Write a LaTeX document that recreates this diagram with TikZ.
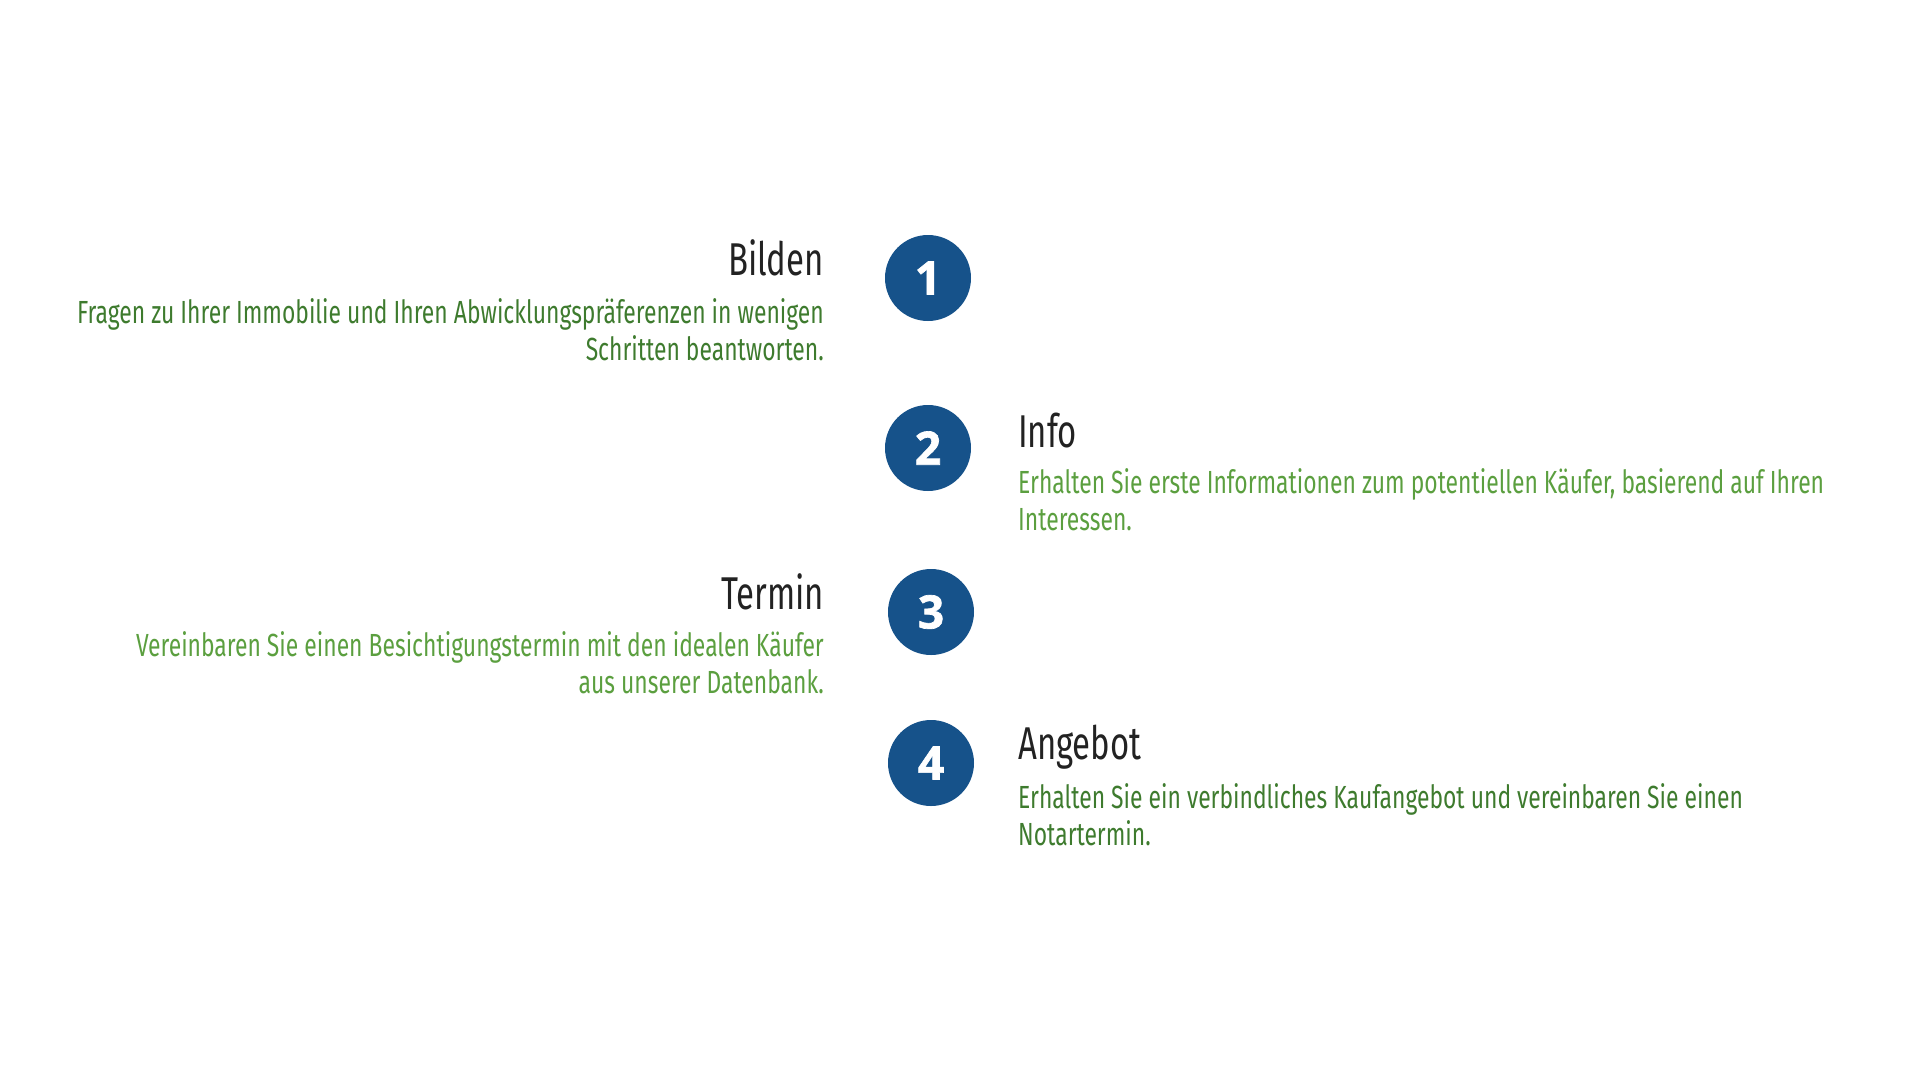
\documentclass[tikz,border=0pt]{standalone}
\usepackage{fontspec}
\setmainfont{Fira Sans}[FakeStretch=0.715]
\newfontfamily\numfont{Open Sans}[BoldFeatures={FakeBold=1.5}]
\definecolor{circleblue}{HTML}{16528A}
\definecolor{darkgreen}{HTML}{3E7B2E}
\definecolor{lightgreen}{HTML}{5B9F3F}
\definecolor{titlegray}{HTML}{222222}
\tikzset{
   stepcircle/.style={circle, fill=circleblue, minimum size=86pt, inner sep=0pt,
      text=white, font=\numfont\bfseries\fontsize{46}{46}\selectfont},
   steptitle/.style={inner sep=0pt, text=titlegray, font=\fontsize{46}{50}\selectfont},
   stepdesc/.style={inner sep=0pt, font=\fontsize{32}{37}\selectfont},
}
\begin{document}
\begin{tikzpicture}[x=1pt, y=-1pt]
   \useasboundingbox (0, 0) rectangle (1920, 1080);
   % numbered circles
   \node[stepcircle] (n1) at (928, 278) {1};
   \node[stepcircle] (n2) at (928, 448) {2};
   \node[stepcircle] (n3) at (931, 612) {3};
   \node[stepcircle] (n4) at (931, 763) {4};
   % left column
   \node[steptitle, anchor=base east] (t1) at (824, 275) {Bilden};
   \node[stepdesc, anchor=base east, align=right, text=darkgreen] (d1) at (824, 360)
      {Fragen zu Ihrer Immobilie und Ihren Abwicklungspräferenzen in wenigen\\Schritten beantworten.};
   \node[steptitle, anchor=base east] (t3) at (824, 609) {Termin};
   \node[stepdesc, anchor=base east, align=right, text=lightgreen] (d3) at (824, 693)
      {Vereinbaren Sie einen Besichtigungstermin mit den idealen Käufer\\aus unserer Datenbank.};
   % right column
   \node[steptitle, anchor=base west] (t2) at (1018, 447) {Info};
   \node[stepdesc, anchor=base west, align=left, text=lightgreen] (d2) at (1018, 530)
      {Erhalten Sie erste Informationen zum potentiellen Käufer, basierend auf Ihren\\Interessen.};
   \node[steptitle, anchor=base west] (t4) at (1018, 759) {Angebot};
   \node[stepdesc, anchor=base west, align=left, text=darkgreen] (d4) at (1018, 845)
      {Erhalten Sie ein verbindliches Kaufangebot und vereinbaren Sie einen\\Notartermin.};
\end{tikzpicture}
\end{document}
